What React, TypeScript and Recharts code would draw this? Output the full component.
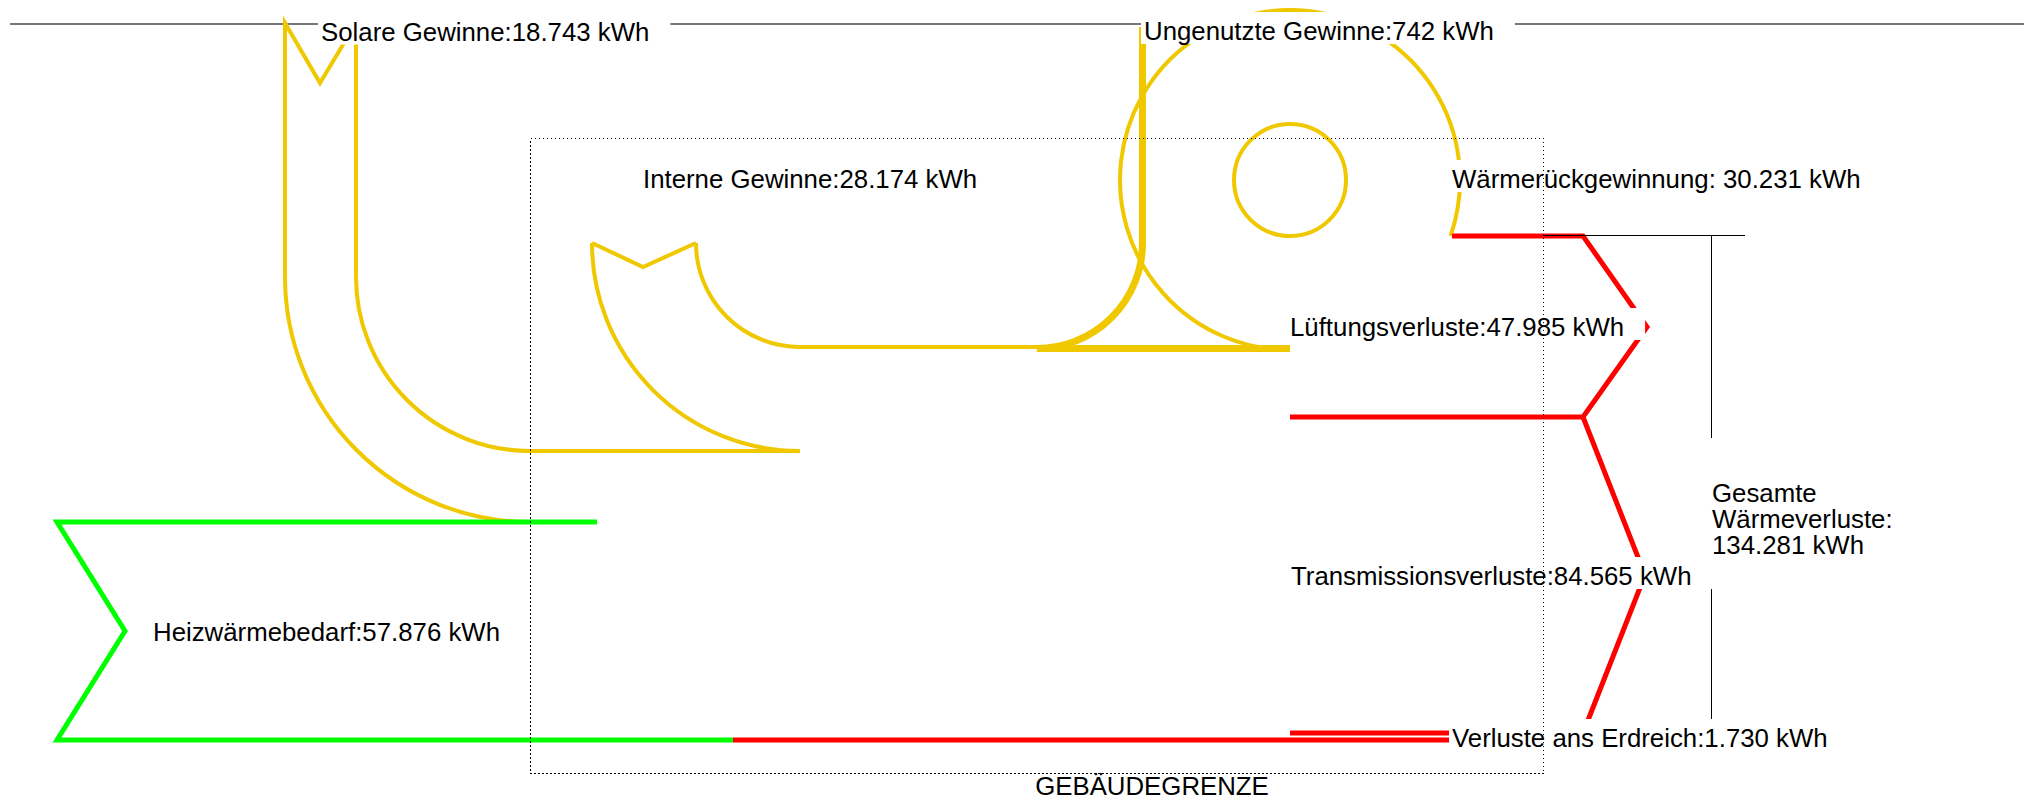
import { ScatterChart, Scatter, XAxis, YAxis } from "recharts";

type Pt = { x: number; y: number };
type Arc = { x: number; y: number; r: number; from: number; to: number };
type Label = { x: number; y: number; lines: string[]; anchor?: "start" | "middle"; box?: boolean };

const W = 2032;
const H = 800;

const YELLOW = "#f0c800";
const RED = "#ff0000";
const GREEN = "#00ff00";
const FONT = '"Liberation Sans", Arial, sans-serif';
const FONT_SIZE = 25.8;

// outline of the flows (diagram units = page pixels)
const headerLine: Pt[] = [{ x: 10, y: 24 }, { x: 2024, y: 24 }];
const buildingBorder: Pt[] = [
  { x: 530.5, y: 138.5 }, { x: 1543.5, y: 138.5 }, { x: 1543.5, y: 773.5 }, { x: 530.5, y: 773.5 }, { x: 530.5, y: 138.5 },
];

const solarTail: Pt[] = [
  { x: 285, y: 277 }, { x: 285, y: 23 }, { x: 320, y: 83 }, { x: 356, y: 23 }, { x: 356, y: 277 },
];
const solarInner: Pt[] = [{ x: 530, y: 451 }, { x: 800, y: 451 }];
const internalTail: Pt[] = [{ x: 592, y: 243 }, { x: 643, y: 267 }, { x: 696, y: 243 }];
const internalTop: Pt[] = [{ x: 800, y: 347 }, { x: 1290, y: 347 }];
const recoveryBottom: Pt[] = [{ x: 1037, y: 350 }, { x: 1290, y: 350 }];
const unusedInner: Pt[] = [{ x: 1141, y: 243 }, { x: 1141, y: 27 }];
const unusedOuter: Pt[] = [{ x: 1144, y: 243 }, { x: 1144, y: 27 }];

const yellowArcs: Arc[] = [
  { x: 530, y: 277, r: 245, from: 180, to: 90 },
  { x: 530, y: 277, r: 174, from: 180, to: 90 },
  { x: 800, y: 243, r: 208, from: 180, to: 90 },
  { x: 800, y: 243, r: 104, from: 180, to: 90 },
  { x: 1037, y: 243, r: 104, from: 90, to: 0 },
  { x: 1037, y: 243, r: 107, from: 90, to: 0 },
  { x: 1290, y: 180, r: 170, from: 90, to: 379.2 },
  { x: 1290, y: 180, r: 56, from: 0, to: 360 },
];

const heatingDemand: Pt[] = [
  { x: 597, y: 522 }, { x: 57, y: 522 }, { x: 125, y: 631 }, { x: 57, y: 740 }, { x: 733, y: 740 },
];

const groundLossLow: Pt[] = [{ x: 733, y: 740 }, { x: 1451, y: 740 }];
const groundLossHigh: Pt[] = [{ x: 1290, y: 733 }, { x: 1451, y: 733 }];
const ventilationLoss: Pt[] = [
  { x: 1452, y: 236 }, { x: 1583, y: 236 }, { x: 1647, y: 327 }, { x: 1583, y: 417 }, { x: 1290, y: 417 },
];
const transmissionLoss: Pt[] = [{ x: 1583, y: 417 }, { x: 1645, y: 575 }, { x: 1583, y: 733 }];

const totalTop: Pt[] = [{ x: 1543, y: 235.5 }, { x: 1745, y: 235.5 }];
const totalBar: Pt[] = [{ x: 1711.5, y: 236 }, { x: 1711.5, y: 740 }];
const totalBottom: Pt[] = [{ x: 1543, y: 740.5 }, { x: 1745, y: 740.5 }];

const labels: Label[] = [
  { x: 321, y: 40.5, lines: ["Solare Gewinne:18.743 kWh"], box: true },
  { x: 1144, y: 40, lines: ["Ungenutzte Gewinne:742 kWh"], box: true },
  { x: 643, y: 188, lines: ["Interne Gewinne:28.174 kWh"], box: true },
  { x: 1452, y: 188, lines: ["Wärmerückgewinnung: 30.231 kWh"], box: true },
  { x: 1290, y: 336, lines: ["Lüftungsverluste:47.985 kWh"], box: true },
  { x: 1291, y: 585, lines: ["Transmissionsverluste:84.565 kWh"], box: true },
  { x: 1452, y: 747, lines: ["Verluste ans Erdreich:1.730 kWh"], box: true },
  { x: 153, y: 641, lines: ["Heizwärmebedarf:57.876 kWh"], box: true },
  { x: 1712, y: 502, lines: ["Gesamte", "Wärmeverluste:", "134.281 kWh"], box: true },
  { x: 1152, y: 795, lines: ["GEBÄUDEGRENZE"], anchor: "middle" },
];

let measureCtx: CanvasRenderingContext2D | null = null;
function textWidth(s: string) {
  if (!measureCtx) {
    measureCtx = document.createElement("canvas").getContext("2d");
  }
  if (!measureCtx) return s.length * FONT_SIZE * 0.5;
  measureCtx.font = `${FONT_SIZE}px ${FONT}`;
  return measureCtx.measureText(s).width;
}

// 1 diagram unit = 1 px since the plot spans the whole domain
const K = 1;

const NoDot = () => <g />;

function arcD(cx: number, cy: number, r: number, a0: number, a1: number) {
  const rad = Math.PI / 180;
  const x0 = cx + r * Math.cos(a0 * rad);
  const y0 = cy + r * Math.sin(a0 * rad);
  const x1 = cx + r * Math.cos(a1 * rad);
  const y1 = cy + r * Math.sin(a1 * rad);
  const large = Math.abs(a1 - a0) > 180 ? 1 : 0;
  const sweep = a1 > a0 ? 1 : 0;
  return `M${x0},${y0} A${r},${r} 0 ${large} ${sweep} ${x1},${y1}`;
}

const makeArc = (color: string, width: number) => (props: any) => {
  const { cx, cy, payload } = props;
  const r = payload.r * K;
  if (Math.abs(payload.to - payload.from) >= 360) {
    return <circle cx={cx} cy={cy} r={r} fill="none" stroke={color} strokeWidth={width} />;
  }
  return <path d={arcD(cx, cy, r, payload.from, payload.to)} fill="none" stroke={color} strokeWidth={width} />;
};

const LabelShape = (props: any) => {
  const { cx, cy, payload } = props;
  const lines: string[] = payload.lines;
  const anchor = payload.anchor || "start";
  const lh = 26;
  const w = Math.max(...lines.map(textWidth));
  let box = null;
  if (payload.box) {
    const top = lines.length > 1 ? cy - 64 : cy - 28;
    const bottom = lines.length > 1 ? cy + (lines.length - 1) * lh + 14 : cy + 4;
    box = <rect x={cx - 3} y={top} width={w + 24} height={bottom - top} fill="#fff" />;
  }
  return (
    <g>
      {box}
      <text x={cx} y={cy} textAnchor={anchor} fontFamily={FONT} fontSize={FONT_SIZE} fill="#000">
        {lines.map((l, i) => (
          <tspan key={i} x={cx} y={cy + i * lh}>
            {l}
          </tspan>
        ))}
      </text>
    </g>
  );
};

export default function App() {
  const path = (pts: Pt[], color: string, width: number, dash?: string, crisp?: boolean) => (
    <Scatter
      data={pts}
      shape={NoDot}
      line={{
        stroke: color,
        strokeWidth: width,
        strokeDasharray: dash,
        fill: "none",
        shapeRendering: crisp ? "crispEdges" : undefined,
      }}
      lineType="joint"
      isAnimationActive={false}
    />
  );
  return (
    <div style={{ position: "absolute", left: 0, top: 0, width: W, height: H, background: "#fff" }}>
      <ScatterChart width={W} height={H} margin={{ top: 0, right: 0, bottom: 0, left: 0 }}>
        <XAxis type="number" dataKey="x" domain={[0, W]} hide allowDataOverflow />
        <YAxis type="number" dataKey="y" domain={[0, H]} reversed hide allowDataOverflow />

        {path(headerLine, "#777", 2)}

        {path(solarTail, YELLOW, 4)}
        {path(solarInner, YELLOW, 4)}
        {path(internalTail, YELLOW, 4)}
        {path(internalTop, YELLOW, 4)}
        {path(recoveryBottom, YELLOW, 4)}
        {path(unusedInner, YELLOW, 4)}
        {path(unusedOuter, YELLOW, 4)}
        <Scatter data={yellowArcs} shape={makeArc(YELLOW, 4)} isAnimationActive={false} />

        {path(heatingDemand, GREEN, 5)}

        {path(groundLossLow, RED, 5)}
        {path(groundLossHigh, RED, 5)}
        {path(ventilationLoss, RED, 5)}
        {path(transmissionLoss, RED, 5)}

        {path(totalTop, "#000", 1, undefined, true)}
        {path(totalBar, "#000", 1, undefined, true)}
        {path(totalBottom, "#000", 1, undefined, true)}

        <Scatter data={labels} shape={LabelShape} isAnimationActive={false} />

        {path(buildingBorder, "#000", 1, "1.5 2.5", true)}
      </ScatterChart>
    </div>
  );
}
